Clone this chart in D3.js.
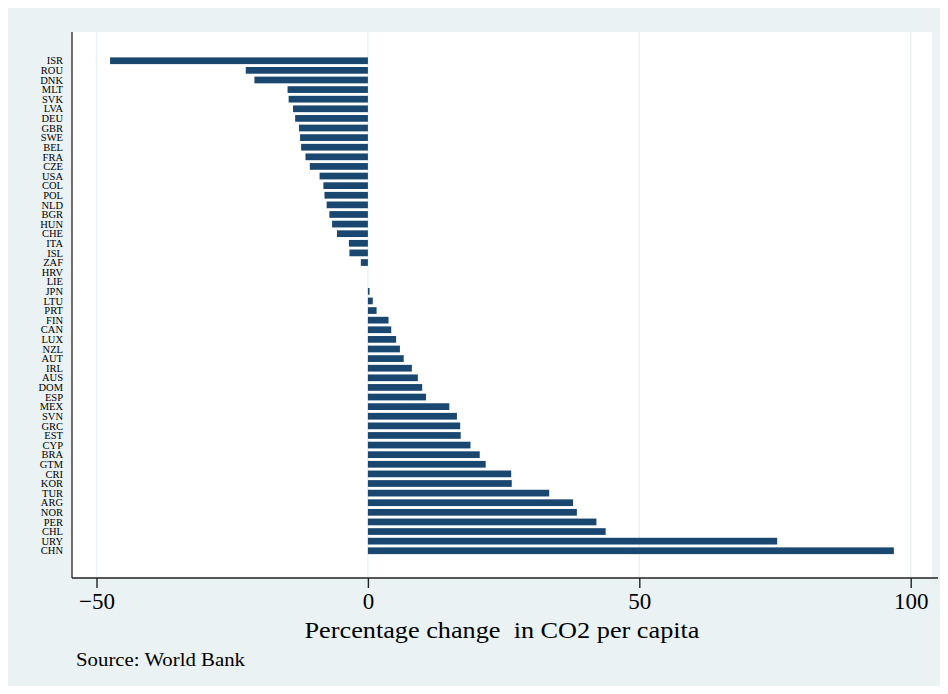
<!DOCTYPE html>
<meta charset="utf-8">
<style>
body { margin: 0; background: #fff; }
text { font-family: "Liberation Serif", "Times New Roman", serif; fill: #000; }
.grid line { stroke: #eaf2f3; stroke-width: 1.5px; }
.xaxis path, .xaxis line { stroke: #222; stroke-width: 1.4px; }
</style>
<svg width="948" height="694"></svg>
<script src="https://d3js.org/d3.v7.min.js"></script>
<script>
// countries, top to bottom
var countries = ["ISR","ROU","DNK","MLT","SVK","LVA","DEU","GBR","SWE","BEL","FRA","CZE",
  "USA","COL","POL","NLD","BGR","HUN","CHE","ITA","ISL","ZAF","HRV","LIE","JPN","LTU",
  "PRT","FIN","CAN","LUX","NZL","AUT","IRL","AUS","DOM","ESP","MEX","SVN","GRC","EST",
  "CYP","BRA","GTM","CRI","KOR","TUR","ARG","NOR","PER","CHL","URY","CHN"];

// percentage change in CO2 per capita
var change = [-47.5,-22.5,-20.9,-14.8,-14.6,-13.8,-13.4,-12.7,-12.5,-12.3,-11.5,-10.7,
  -8.9,-8.2,-8.0,-7.6,-7.1,-6.6,-5.7,-3.5,-3.4,-1.3,0,0,0.3,0.9,
  1.6,3.8,4.3,5.2,5.9,6.6,8.1,9.2,10.0,10.7,15.0,16.4,17.0,17.1,
  18.9,20.6,21.7,26.4,26.5,33.4,37.8,38.5,42.1,43.8,75.4,96.9];

var xTicks = [-50, 0, 50, 100];

var svg = d3.select("svg");

// graph region
svg.append("rect")
    .attr("x", 8).attr("y", 8)
    .attr("width", 932).attr("height", 678)
    .attr("fill", "#eaf2f3");

var plot = { left: 72, right: 932, top: 32, bottom: 578 };

// plot region
svg.append("rect")
    .attr("x", plot.left).attr("y", plot.top)
    .attr("width", plot.right - plot.left).attr("height", plot.bottom - plot.top)
    .attr("fill", "#fff");

var x = d3.scaleLinear()
    .domain([-50, 100])
    .range([96.5, 910.7]);

var y = d3.scaleBand()
    .domain(countries)
    .range([54.5, 557])
    .padding(0.3);

// grid lines
svg.append("g")
    .attr("class", "grid")
  .selectAll("line")
  .data(xTicks)
  .enter().append("line")
    .attr("x1", function(d) { return x(d); })
    .attr("x2", function(d) { return x(d); })
    .attr("y1", plot.top)
    .attr("y2", plot.bottom);

var data = countries.map(function(c, i) { return { name: c, value: change[i] }; });

// bars
svg.append("g")
  .selectAll("rect")
  .data(data)
  .enter().append("rect")
    .attr("x", function(d) { return x(Math.min(0, d.value)); })
    .attr("y", function(d) { return y(d.name); })
    .attr("width", function(d) { return Math.abs(x(d.value) - x(0)); })
    .attr("height", y.bandwidth())
    .attr("fill", "#1a476f");

// country labels
svg.append("g")
  .selectAll("text")
  .data(countries)
  .enter().append("text")
    .attr("x", 63)
    .attr("y", function(d) { return y(d) + y.bandwidth() / 2; })
    .attr("dy", "0.35em")
    .attr("text-anchor", "end")
    .style("font-size", "10.5px")
    .text(function(d) { return d; });

// y axis line
svg.append("line")
    .attr("x1", plot.left).attr("x2", plot.left)
    .attr("y1", plot.top).attr("y2", plot.bottom)
    .attr("stroke", "#333")
    .attr("stroke-width", 1.4);

// x axis
var xAxis = svg.append("g")
    .attr("class", "xaxis")
    .attr("transform", "translate(0," + plot.bottom + ")")
    .call(d3.axisBottom(x).tickValues(xTicks).tickSize(10).tickSizeOuter(0).tickPadding(5));

xAxis.select(".domain")
    .attr("d", "M" + plot.left + ",0H" + (plot.right + 6));

xAxis.selectAll("text")
    .style("font-size", "23px")
    .style("font-family", "'Liberation Serif', serif")
    .attr("fill", "#000");

// axis title
svg.append("text")
    .attr("x", (plot.left + plot.right) / 2)
    .attr("y", 638)
    .attr("text-anchor", "middle")
    .attr("textLength", 395)
    .attr("lengthAdjust", "spacingAndGlyphs")
    .style("font-size", "24px")
    .style("white-space", "pre")
    .text("Percentage change  in CO2 per capita");

// note
svg.append("text")
    .attr("x", 76)
    .attr("y", 666)
    .attr("textLength", 169)
    .attr("lengthAdjust", "spacingAndGlyphs")
    .style("font-size", "18px")
    .text("Source: World Bank");
</script>
